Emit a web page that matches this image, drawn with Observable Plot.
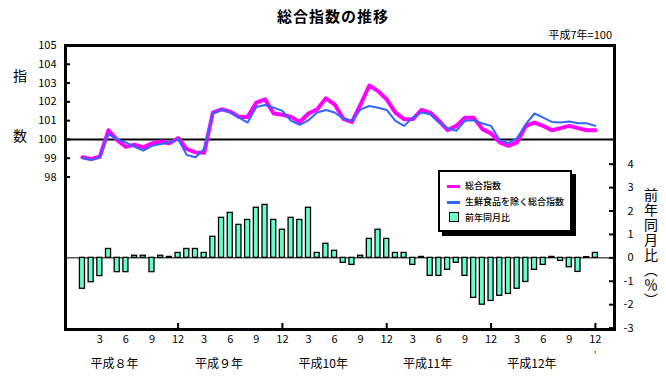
<!DOCTYPE html>
<html>
<head>
<meta charset="utf-8">
<script src="https://cdn.jsdelivr.net/npm/d3@7"></script>
<script src="https://cdn.jsdelivr.net/npm/@observablehq/plot@0.6"></script>
<style>
  html, body { margin: 0; padding: 0; background: #fff; }
  #wrap { position: relative; width: 666px; height: 387px; overflow: hidden;
          font-family: "Noto Sans CJK JP", "Noto Sans", sans-serif; color: #000; }
  #wrap svg { position: absolute; left: 0; top: 0; }
  .abs { position: absolute; white-space: nowrap; line-height: 1; }
  .legend { position: absolute; left: 438px; top: 170px; width: 130px; height: 58px;
            border: 2px solid #000; box-shadow: 4px 4px 0 #000; background: #fff; }
  .legend .sw { position: absolute; }
  .legend .lt { position: absolute; font-size: 9px; line-height: 12px; white-space: nowrap; font-weight: 500; }
</style>
</head>
<body>
<div id="wrap"></div>
<script>
// ---- data (平成8年1月 〜 平成12年12月) ----
const monthIndex = d3.range(60);
const sogo = [99.05, 98.96, 99.08, 100.49, 99.96, 99.60, 99.72, 99.58, 99.79, 99.89, 99.79, 100.07,
              99.49, 99.31, 99.29, 101.43, 101.60, 101.48, 101.20, 101.20, 101.96, 102.13, 101.38, 101.31,
              101.20, 100.93, 101.38, 101.60, 102.19, 101.87, 101.10, 100.93, 101.87, 102.87, 102.57, 102.13,
              101.43, 101.08, 101.08, 101.57, 101.43, 100.99, 100.49, 100.72, 101.16, 101.16, 100.55, 100.32,
              99.84, 99.66, 99.84, 100.72, 100.90, 100.72, 100.49, 100.60, 100.72, 100.60, 100.49, 100.49];
const core = [99.01, 98.90, 99.05, 100.28, 100.00, 99.84, 99.60, 99.40, 99.66, 99.75, 99.84, 100.02,
              99.17, 99.05, 99.49, 101.38, 101.60, 101.43, 101.16, 100.90, 101.73, 101.83, 101.69, 101.52,
              100.99, 100.78, 101.02, 101.43, 101.57, 101.43, 101.10, 100.99, 101.60, 101.78, 101.69, 101.57,
              100.99, 100.72, 101.16, 101.43, 101.34, 100.90, 100.60, 100.46, 100.99, 101.02, 100.85, 100.72,
              99.96, 99.81, 100.07, 100.81, 101.38, 101.16, 100.93, 100.90, 100.95, 100.86, 100.86, 100.72];
const yoy = [-1.32, -1.04, -0.78, 0.38, -0.61, -0.61, 0.09, 0.09, -0.61, 0.09, 0.04, 0.21,
             0.38, 0.38, 0.21, 0.90, 1.71, 1.92, 1.41, 1.62, 2.14, 2.26, 1.62, 1.20,
             1.71, 1.62, 2.14, 0.21, 0.60, 0.30, -0.21, -0.30, 0.09, 0.81, 1.20, 0.81,
             0.21, 0.21, -0.30, 0.04, -0.77, -0.77, -0.51, -0.21, -0.77, -1.71, -2.00, -1.84,
             -1.62, -1.54, -1.32, -1.03, -0.51, -0.30, 0.04, -0.13, -0.40, -0.60, 0.03, 0.21];
const yearLabels = ["平成８年", "平成９年", "平成10年", "平成11年", "平成12年"];
const monthTickIdx = [2,5,8,11,14,17,20,23,26,29,32,35,38,41,44,47,50,53,56,59];
const yearEndIdx = [11, 23, 35, 47, 59];
const leftTicks = [98, 99, 100, 101, 102, 103, 104, 105];
const rightTicks = [-3, -2, -1, 0, 1, 2, 3, 4];

const rows = monthIndex.map(i => ({i, sogo: sogo[i], core: core[i], yoy: yoy[i]}));

// ---- layout ----
const W = 666, H = 387;
const margins = {marginTop: 45, marginRight: 52, marginBottom: 58, marginLeft: 65};
const xDomain = [-1.95, 61.2];
const font = '"Noto Sans CJK JP", "Noto Sans", sans-serif';

// Plot A: bars (right axis), month axis, frame
const plotA = Plot.plot({
  width: W, height: H, ...margins,
  style: {fontFamily: font, fontSize: "11px", background: "transparent", overflow: "visible"},
  x: {type: "linear", domain: xDomain, axis: null, label: null},
  y: {domain: [-3.06, 9.07], axis: null, label: null},
  marks: [
    Plot.ruleY([0], {stroke: "#000", strokeWidth: 1}),
    Plot.rect(rows, {x1: d => d.i - 0.29, x2: d => d.i + 0.29, y1: 0, y2: "yoy",
                     fill: "#66FFCC", stroke: "#000", strokeWidth: 1.3}),
    Plot.axisY({ticks: rightTicks, anchor: "right", tickSize: -6, strokeWidth: 2,
                tickFormat: () => "", label: null}),
    Plot.text(rightTicks, {y: d => d, text: d => String(d), frameAnchor: "right",
                           textAnchor: "end", dx: 19, fontSize: 11}),
    Plot.axisX({ticks: yearEndIdx, anchor: "bottom", tickSize: -6, strokeWidth: 2,
                tickFormat: () => "", label: null}),
    Plot.text(monthTickIdx, {x: d => d, text: d => String(d % 12 + 1), frameAnchor: "bottom",
                             dy: 13, fontSize: 11}),
    Plot.text(yearLabels, {x: (d, k) => 12 * k + 3.7, text: d => d, frameAnchor: "bottom",
                           dy: 38, fontSize: 12}),
    Plot.text(["'"], {x: () => 59, text: d => d, frameAnchor: "bottom", dy: 28, fontSize: 9}),
    Plot.frame({stroke: "#000", strokeWidth: 3})
  ]
});

// Plot B: index lines (left axis)
const plotB = Plot.plot({
  width: W, height: H, ...margins,
  style: {fontFamily: font, fontSize: "11px", background: "transparent", overflow: "visible"},
  x: {type: "linear", domain: xDomain, axis: null, label: null},
  y: {domain: [89.88, 105], axis: null, label: null},
  marks: [
    Plot.axisY({ticks: leftTicks, anchor: "left", tickSize: -5, strokeWidth: 2,
                tickFormat: () => "", label: null}),
    Plot.text(leftTicks, {y: d => d, text: d => String(d), frameAnchor: "left",
                          textAnchor: "end", dx: -9, fontSize: 11}),
    Plot.ruleY([100], {stroke: "#000", strokeWidth: 2}),
    Plot.line(rows, {x: "i", y: "sogo", stroke: "#FF00FF", strokeWidth: 4}),
    Plot.line(rows, {x: "i", y: "core", stroke: "#3366FF", strokeWidth: 2})
  ]
});

const wrap = document.getElementById("wrap");
wrap.appendChild(plotA);
wrap.appendChild(plotB);

function addText(txt, css) {
  const d = document.createElement("div");
  d.className = "abs";
  d.textContent = txt;
  Object.assign(d.style, css);
  wrap.appendChild(d);
  return d;
}
addText("総合指数の推移", {left: "0px", width: "666px", textAlign: "center", top: "8px",
  fontSize: "15px", fontWeight: "bold", letterSpacing: "1px"});
addText("平成7年=100", {right: "54px", top: "29px", fontSize: "11px"});
addText("指", {left: "13px", top: "68px", fontSize: "14px"});
addText("数", {left: "13px", top: "128px", fontSize: "14px"});
addText("前年同月比（％）", {left: "644px", top: "188px", fontSize: "14px",
  writingMode: "vertical-rl", letterSpacing: "1px"});

// legend
const lg = document.createElement("div");
lg.className = "legend";
lg.innerHTML = `
  <div class="sw" style="left:7px;top:13px;width:13px;height:3px;background:#FF00FF"></div>
  <div class="lt" style="left:25px;top:8px">総合指数</div>
  <div class="sw" style="left:7px;top:29px;width:13px;height:3px;background:#3366FF"></div>
  <div class="lt" style="left:25px;top:24px">生鮮食品を除く総合指数</div>
  <div class="sw" style="left:9px;top:40px;width:10px;height:10px;background:#66FFCC;border:1px solid #000;box-sizing:border-box"></div>
  <div class="lt" style="left:25px;top:40px">前年同月比</div>`;
wrap.appendChild(lg);
</script>
</body>
</html>
